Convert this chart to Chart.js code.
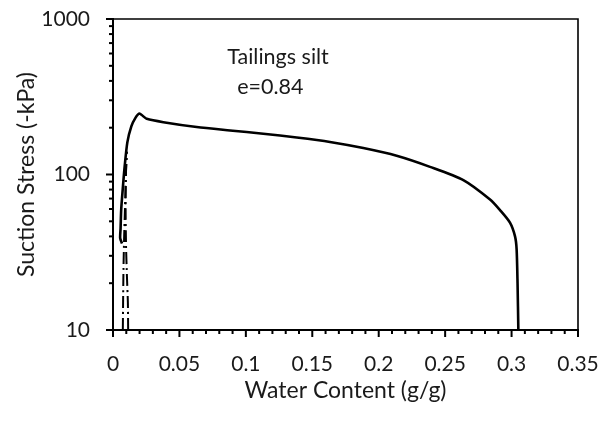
<!DOCTYPE html>
<html>
<head>
<meta charset="utf-8">
<title>Suction stress</title>
<script src="https://cdn.jsdelivr.net/npm/chart.js@4.4.1/dist/chart.umd.min.js"></script>
<style>
  html, body { margin: 0; padding: 0; background: #fff; }
</style>
</head>
<body>
<canvas id="suctionChart" width="605" height="423"></canvas>
<script>
// Suction stress curve (solid) - water content g/g vs suction stress -kPa
const solidWater  = [0.0068, 0.0054, 0.0057, 0.0062, 0.0075, 0.0088, 0.0108, 0.0138, 0.0170, 0.0198, 0.0225, 0.0254, 0.0379, 0.0630, 0.0881, 0.1131, 0.1383, 0.1633, 0.1884, 0.2135, 0.2386, 0.2637, 0.2838, 0.2913, 0.2988, 0.3026, 0.3038, 0.3045, 0.3051];
const solidStress = [36, 39, 45, 60, 84, 113, 161, 204, 232, 247, 238, 228, 217, 202, 192, 183, 173, 162, 148, 132, 112, 92, 69, 59, 49, 40, 33, 20, 10];

// dash-dot branches near dry end
const dashAWater  = [0.0074, 0.0076, 0.0079, 0.0084, 0.0090, 0.0097, 0.0104];
const dashAStress = [10, 15, 25, 40, 60, 100, 140];
const dashBWater  = [0.0114, 0.0112, 0.0105, 0.0098, 0.0095, 0.0097, 0.0104];
const dashBStress = [10, 15, 22, 35, 60, 100, 140];

// axis ticks
const xTickLabels = [0, 0.05, 0.1, 0.15, 0.2, 0.25, 0.3, 0.35];
const yTickLabels = [10, 100, 1000];

const noteLines = ['Tailings silt', 'e=0.84'];

const textColor = '#1a1a1a';
const fontStack = 'Lato, "Open Sans", sans-serif';
Chart.defaults.font.family = fontStack;
Chart.defaults.font.size = 21;
Chart.defaults.color = textColor;

function toPoints(xs, ys) {
    return xs.map((x, i) => ({ x: x, y: ys[i] }));
}

// minor ticks: 0.01 steps on x, 2..9 per decade on y
function xAllTicks() {
    const ticks = [];
    for (let i = 0; i <= 35; i++) {
        ticks.push({ value: i / 100, major: i % 5 === 0 });
    }
    return ticks;
}

function yAllTicks() {
    const ticks = [];
    for (let d = 0; d < yTickLabels.length; d++) {
        const base = yTickLabels[d];
        ticks.push({ value: base, major: true });
        if (d === yTickLabels.length - 1) break;
        for (let k = 2; k <= 9; k++) ticks.push({ value: base * k, major: false });
    }
    return ticks;
}

// tick marks, top/right frame and the note text
const axisMarks = {
    id: 'axisMarks',
    afterDraw(chart) {
        const ctx = chart.ctx;
        const area = chart.chartArea;
        const xs = chart.scales.x;
        const ys = chart.scales.y;
        ctx.save();
        ctx.strokeStyle = '#000';

        ctx.lineWidth = 1.6;
        ctx.beginPath();
        ctx.moveTo(area.left, area.top);
        ctx.lineTo(area.right, area.top);
        ctx.lineTo(area.right, area.bottom);
        ctx.stroke();

        ctx.lineWidth = 2;
        xs.ticks.forEach(t => {
            const px = xs.getPixelForValue(t.value);
            const len = t.major ? 7 : 4;
            ctx.beginPath();
            ctx.moveTo(px, area.bottom);
            ctx.lineTo(px, area.bottom + len);
            ctx.stroke();
        });
        ys.ticks.forEach(t => {
            const py = ys.getPixelForValue(t.value);
            const len = t.major ? 7 : 4;
            ctx.beginPath();
            ctx.moveTo(area.left - len, py);
            ctx.lineTo(area.left, py);
            ctx.stroke();
        });

        ctx.fillStyle = textColor;
        ctx.font = '21.5px ' + fontStack;
        ctx.textAlign = 'left';
        ctx.textBaseline = 'middle';
        ctx.fillText(noteLines[0], xs.getPixelForValue(0.086), ys.getPixelForValue(565));
        ctx.fillText(noteLines[1], xs.getPixelForValue(0.0935), ys.getPixelForValue(367));
        ctx.restore();
    }
};

const ctx = document.getElementById('suctionChart').getContext('2d');

new Chart(ctx, {
    type: 'scatter',
    data: {
        datasets: [
            {
                label: 'Suction stress',
                data: toPoints(solidWater, solidStress),
                showLine: true,
                borderColor: '#000',
                borderWidth: 2.6,
                pointRadius: 0,
                tension: 0.25
            },
            {
                label: 'Branch A',
                data: toPoints(dashAWater, dashAStress),
                showLine: true,
                borderColor: '#000',
                borderWidth: 2,
                borderDash: [12, 4, 2, 4],
                pointRadius: 0,
                tension: 0.2
            },
            {
                label: 'Branch B',
                data: toPoints(dashBWater, dashBStress),
                showLine: true,
                borderColor: '#000',
                borderWidth: 2,
                borderDash: [12, 4, 2, 4],
                pointRadius: 0,
                tension: 0.2
            }
        ]
    },
    options: {
        responsive: false,
        animation: false,
        devicePixelRatio: 1,
        layout: {
            padding: { left: 0, right: 27, top: 19, bottom: 0 }
        },
        plugins: {
            legend: { display: false },
            tooltip: { enabled: false }
        },
        scales: {
            x: {
                type: 'linear',
                min: 0,
                max: 0.35,
                afterFit: scale => {
                    scale.height = 93;
                    scale.paddingLeft = 0;
                    scale.paddingRight = 0;
                },
                afterBuildTicks: scale => { scale.ticks = xAllTicks(); },
                grid: { display: true, drawOnChartArea: false, drawTicks: false },
                border: { display: true, color: '#000', width: 2 },
                ticks: {
                    padding: 22,
                    autoSkip: false,
                    maxRotation: 0,
                    callback: function(value) {
                        const hit = xTickLabels.find(v => Math.abs(v - value) < 1e-9);
                        return hit === undefined ? '' : String(hit);
                    }
                },
                title: {
                    display: true,
                    text: 'Water Content (g/g)',
                    font: { size: 23 },
                    padding: { top: 0, bottom: 19 }
                }
            },
            y: {
                type: 'logarithmic',
                min: 10,
                max: 1000,
                afterFit: scale => {
                    scale.width = 113;
                    scale.paddingTop = 0;
                    scale.paddingBottom = 0;
                },
                afterBuildTicks: scale => { scale.ticks = yAllTicks(); },
                grid: { display: true, drawOnChartArea: false, drawTicks: false },
                border: { display: true, color: '#000', width: 2 },
                ticks: {
                    padding: 23,
                    autoSkip: false,
                    callback: function(value) {
                        return yTickLabels.includes(value) ? String(value) : '';
                    }
                },
                title: {
                    display: true,
                    text: 'Suction Stress (-kPa)',
                    font: { size: 23 },
                    padding: { top: 13, bottom: 0 }
                }
            }
        }
    },
    plugins: [axisMarks]
});
</script>
</body>
</html>
